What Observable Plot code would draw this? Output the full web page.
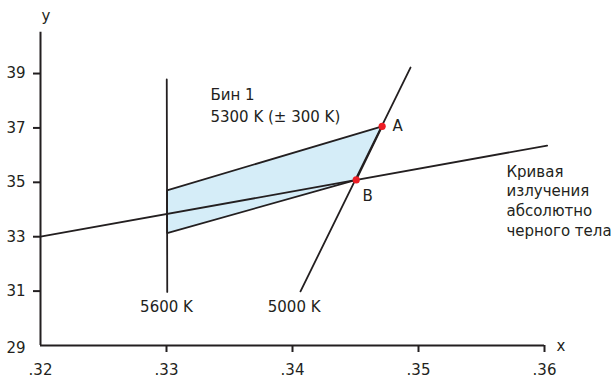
<!DOCTYPE html>
<html>
<head>
<meta charset="utf-8">
<script src="https://cdn.jsdelivr.net/npm/d3@7"></script>
<script src="https://cdn.jsdelivr.net/npm/@observablehq/plot@0.6"></script>
<style>
  html, body { margin: 0; padding: 0; background: #fff; }
</style>
</head>
<body>
<div id="chart"></div>
<script>
// ---- data ----
const xTicks = [0.32, 0.33, 0.34, 0.35, 0.36];
const xTickLabels = [".32", ".33", ".34", ".35", ".36"];
const yTicks = [29, 31, 33, 35, 37, 39];
const yTickLabels = ["29", "31", "33", "35", "37", "39"];

// blackbody (Planckian) locus
const blackbodyX = [0.32, 0.36021];
const blackbodyY = [33.0, 36.35];

// isotemperature lines
const iso5600X = [0.33002, 0.33006];
const iso5600Y = [38.78, 30.97];
const iso5000X = [0.340635, 0.349365];
const iso5000Y = [30.99, 39.22];

// bin 1 quadrilateral
const bin1X = [0.33004, 0.347116, 0.345056, 0.33005];
const bin1Y = [34.70, 37.06, 35.09, 33.13];

// points A and B
const pointNames = ["A", "B"];
const pointX = [0.347116, 0.345056];
const pointY = [37.06, 35.09];
const pointLabelX = [0.34794, 0.34556];
const pointLabelY = [36.90, 34.33];

// annotation texts (anchored in data coordinates)
const labelTexts = ["Бин 1\n5300 K (± 300 K)", "5600 K", "5000 K", "Кривая\nизлучения\nабсолютно\nчерного тела"];
const labelX = [0.33349, 0.33, 0.34013, 0.35698];
const labelY = [37.21, 30.22, 30.22, 33.04];
const labelAnchor = ["start", "middle", "middle", "start"];
const labelLineHeight = [1.51, 1.2, 1.2, 1.307];

const ink = "#231f20";
const toRows = (xs, ys) => xs.map((x, i) => ({x, y: ys[i]}));

const yDomain = [29, 40.52];
const xDomain = [0.32, 0.36];

const annotations = labelTexts.map((t, i) => ({
  t, x: labelX[i], y: labelY[i], a: labelAnchor[i], lh: labelLineHeight[i]
}));

const chart = Plot.plot({
  width: 616,
  height: 379,
  marginLeft: 40,
  marginRight: 72,
  marginTop: 31.7,
  marginBottom: 34,
  x: {domain: xDomain},
  y: {domain: yDomain},
  style: {fontFamily: "'DejaVu Sans', sans-serif", fontSize: "15px", color: ink, background: "#fff", overflow: "visible"},
  marks: [
    // bin polygon
    Plot.line(toRows(bin1X, bin1Y), {x: "x", y: "y", curve: "linear-closed", fill: "#d5edf8", stroke: ink, strokeWidth: 1.8, strokeLinejoin: "miter"}),
    // lines
    Plot.line(toRows(iso5600X, iso5600Y), {x: "x", y: "y", stroke: ink, strokeWidth: 1.8}),
    Plot.line(toRows(iso5000X, iso5000Y), {x: "x", y: "y", stroke: ink, strokeWidth: 1.8}),
    Plot.line(toRows(blackbodyX, blackbodyY), {x: "x", y: "y", stroke: ink, strokeWidth: 1.8}),
    // axes lines
    Plot.ruleX([xDomain[0]], {y1: yDomain[0], y2: yDomain[1], stroke: ink, strokeWidth: 2}),
    Plot.ruleY([yDomain[0]], {x1: xDomain[0], x2: xDomain[1], stroke: ink, strokeWidth: 2}),
    // tick marks (no tick at the origin)
    Plot.axisY(yTicks.slice(1), {tickSize: 7, fill: "none", stroke: ink, strokeWidth: 2, label: null}),
    Plot.axisX(xTicks.slice(1), {tickSize: 7, fill: "none", stroke: ink, strokeWidth: 2, label: null}),
    // tick labels
    Plot.axisY(yTicks.slice(1), {tickSize: 0, tickPadding: 15, fill: ink, tickFormat: d => yTickLabels[yTicks.indexOf(d)], label: null}),
    Plot.axisY(yTicks.slice(0, 1), {tickSize: 0, tickPadding: 15, fill: ink, dy: 3, tickFormat: d => yTickLabels[yTicks.indexOf(d)], label: null}),
    Plot.axisX(xTicks, {tickSize: 0, tickPadding: 19, fill: ink, tickFormat: d => xTickLabels[xTicks.indexOf(d)], label: null}),
    // axis names
    Plot.text(["y"], {frameAnchor: "top-left", text: d => d, textAnchor: "start", lineAnchor: "bottom", dx: 1, dy: -11, fill: ink}),
    Plot.text(["x"], {frameAnchor: "bottom-right", text: d => d, textAnchor: "start", lineAnchor: "bottom", dx: 12, dy: 5, fill: ink}),
    // annotations
    ...annotations.map(d => Plot.text([d], {x: "x", y: "y", text: "t", textAnchor: d.a, lineAnchor: "bottom", lineHeight: d.lh, fill: ink})),
    // points
    Plot.dot(pointNames.map((n, i) => ({n, x: pointX[i], y: pointY[i]})), {x: "x", y: "y", r: 3.6, fill: "#ec1c24", stroke: "none"}),
    Plot.text(pointNames.map((n, i) => ({n, x: pointLabelX[i], y: pointLabelY[i]})), {x: "x", y: "y", text: "n", textAnchor: "start", lineAnchor: "bottom", fill: ink})
  ]
});
document.getElementById("chart").appendChild(chart);
</script>
</body>
</html>
